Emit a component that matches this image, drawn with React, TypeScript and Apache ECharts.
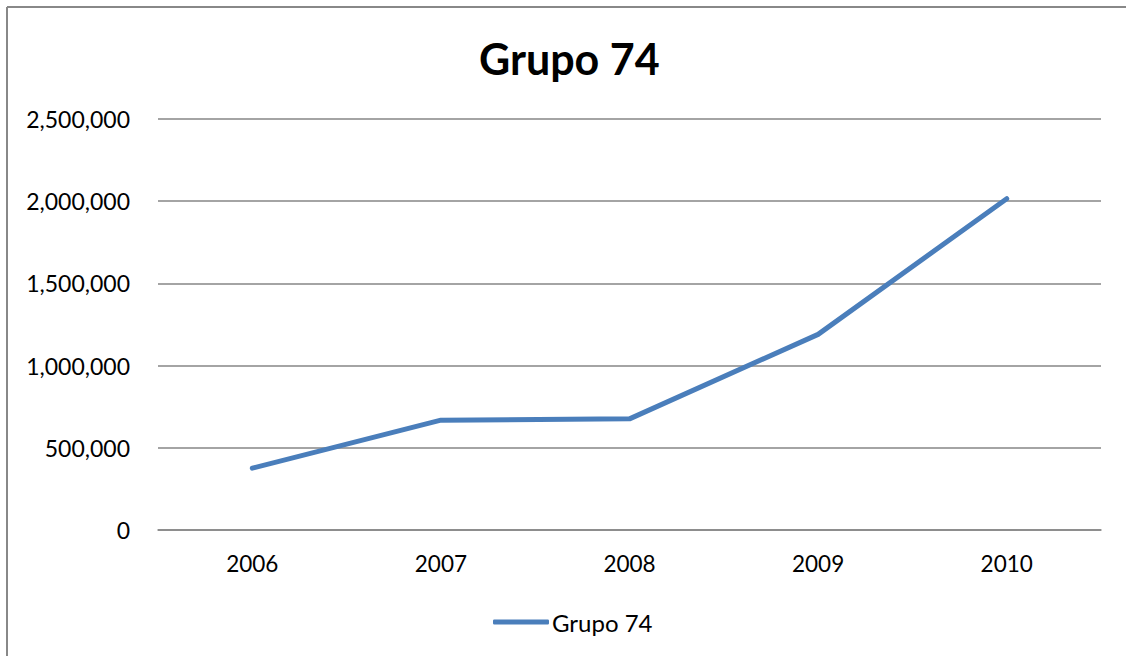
import React, { useEffect, useRef } from "react";
import * as echarts from "echarts";

const categories = ["2006", "2007", "2008", "2009", "2010"];
const seriesName = "Grupo 74";
const values = [376000, 668000, 676000, 1190000, 2015000];
const yTicks = [0, 500000, 1000000, 1500000, 2000000, 2500000];

const FONT = "Lato, 'Open Sans', sans-serif";

export default function App() {
  const ref = useRef<HTMLDivElement>(null);
  useEffect(() => {
    const chart = echarts.init(ref.current!, undefined, { renderer: "svg" });
    chart.setOption({
      animation: false,
      backgroundColor: "#ffffff",
      title: {
        text: "Grupo 74",
        left: 474,
        top: 32,
        textStyle: { fontFamily: FONT, fontSize: 43, fontWeight: "bold", color: "#000" },
      },
      legend: {
        bottom: 17,
        left: 488,
        itemWidth: 56,
        itemHeight: 5,
        itemGap: 4,
        icon: "roundRect",
        textStyle: { fontFamily: FONT, fontSize: 24, color: "#000", padding: [0, 0, 0, -2] },
        data: [seriesName],
      },
      grid: { left: 158, right: 25, top: 119, bottom: 126 },
      xAxis: {
        type: "category",
        data: categories,
        boundaryGap: true,
        axisLine: { lineStyle: { color: "#868686", width: 1.5 } },
        axisTick: { show: false },
        axisLabel: { fontFamily: FONT, fontSize: 22.5, color: "#000", margin: 22 },
      },
      yAxis: {
        type: "value",
        min: yTicks[0],
        max: yTicks[yTicks.length - 1],
        interval: 500000,
        axisLine: { show: false },
        axisTick: { show: false },
        splitLine: { lineStyle: { color: "#868686", width: 1.5 } },
        axisLabel: {
          fontFamily: FONT,
          fontSize: 23,
          color: "#000",
          margin: 28,
          formatter: (v: number) => v.toLocaleString("en-US"),
        },
      },
      series: [
        {
          name: seriesName,
          type: "line",
          data: values,
          symbol: "none",
          lineStyle: { color: "#4a7ebb", width: 5, cap: "round", join: "round" },
          itemStyle: { color: "#4a7ebb" },
        },
      ],
      graphic: [
        {
          type: "line",
          shape: { x1: 7, y1: 7, x2: 1126, y2: 7 },
          style: { stroke: "#888888", lineWidth: 2 },
        },
        {
          type: "line",
          shape: { x1: 7, y1: 7, x2: 7, y2: 656 },
          style: { stroke: "#888888", lineWidth: 2 },
        },
      ],
    });
    return () => chart.dispose();
  }, []);
  return (
    <div
      ref={ref}
      style={{ position: "absolute", left: 0, top: 0, width: 1126, height: 656 }}
    />
  );
}
